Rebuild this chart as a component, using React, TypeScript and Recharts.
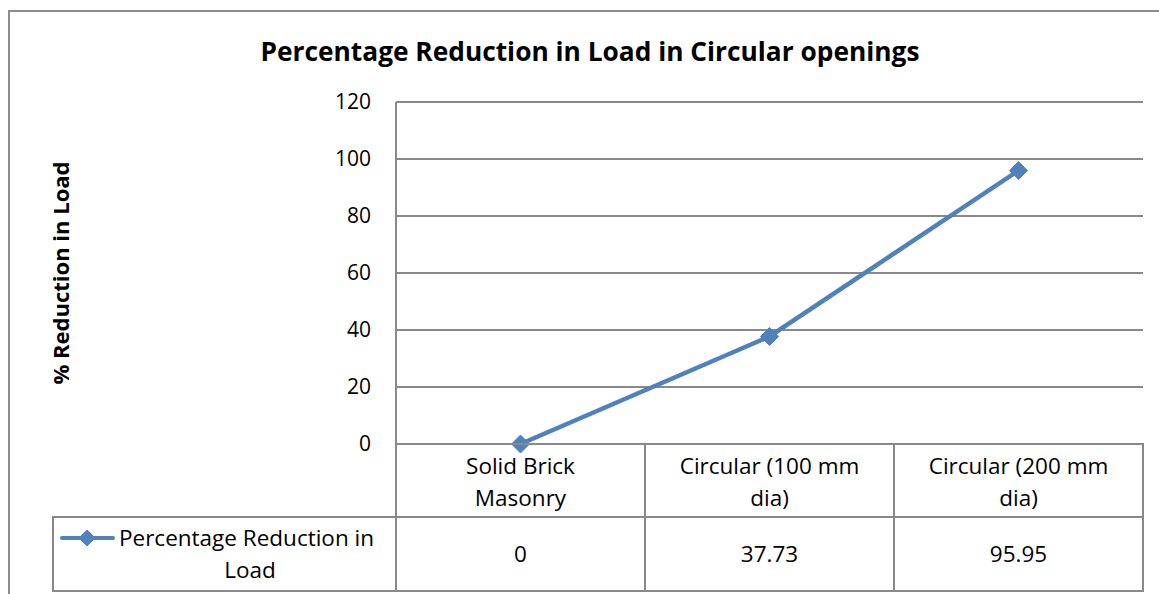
import React from "react";
import { LineChart, Line, XAxis, YAxis, CartesianGrid } from "recharts";

// ─── Data ──────────────────────────────────────────────────────────────────

const categories = ["Solid Brick Masonry", "Circular (100 mm dia)", "Circular (200 mm dia)"];
const headerLines = [
  ["Solid Brick", "Masonry"],
  ["Circular (100 mm", "dia)"],
  ["Circular (200 mm", "dia)"],
];
const reductionValues = [0, 37.73, 95.95];
const yTicks = [0, 20, 40, 60, 80, 100, 120];

const seriesName = "Percentage Reduction in Load";

const data = categories.map((c, i) => ({ name: c, value: reductionValues[i] }));

// ─── Style ─────────────────────────────────────────────────────────────────

const FONT = "'Open Sans', Lato, sans-serif";
const TABLE_FONT_SIZE = 22.5;
const TICK_FONT_SIZE = 21;
const LINE_COLOR = "#4F81BD";
const GRID_COLOR = "#898989";

const WIDTH = 1159;
const HEIGHT = 594;
const PLOT_LEFT = 396;
const PLOT_RIGHT = 1143;
const CELL_W = (PLOT_RIGHT - PLOT_LEFT) / categories.length;
const HEADER_H = 73;
const ROW_H = 74;
const LEGEND_LEFT = 53;

function Diamond({ cx, cy, r = 8 }: { cx: number; cy: number; r?: number }) {
  return (
    <polygon
      points={`${cx},${cy - r} ${cx + r},${cy} ${cx},${cy + r} ${cx - r},${cy}`}
      fill={LINE_COLOR}
      stroke={LINE_COLOR}
      strokeWidth={1}
    />
  );
}

// data table drawn as the x-axis ticks
function TableTick(props: any) {
  const { x, y, index } = props;
  const left = x - CELL_W / 2;
  const lines = headerLines[index];
  const txt = { fontFamily: FONT, fontSize: TABLE_FONT_SIZE, fill: "#000", textAnchor: "middle" as const };
  return (
    <g>
      <rect x={left} y={y} width={CELL_W} height={HEADER_H} fill="none" stroke={GRID_COLOR} strokeWidth={2} />
      <rect x={left} y={y + HEADER_H} width={CELL_W} height={ROW_H} fill="none" stroke={GRID_COLOR} strokeWidth={2} />
      <text {...txt} x={x} y={y + 30}>{lines[0]}</text>
      <text {...txt} x={x} y={y + 62}>{lines[1]}</text>
      <text {...txt} x={x} y={y + HEADER_H + 45}>{reductionValues[index]}</text>
      {index === 0 && (
        <g>
          <rect
            x={LEGEND_LEFT}
            y={y + HEADER_H}
            width={left - LEGEND_LEFT}
            height={ROW_H}
            fill="none"
            stroke={GRID_COLOR}
            strokeWidth={2}
          />
          <line x1={62} x2={113} y1={y + HEADER_H + 21} y2={y + HEADER_H + 21} stroke={LINE_COLOR} strokeWidth={4} strokeLinecap="round" />
          <Diamond cx={87} cy={y + HEADER_H + 21} r={8} />
          <text {...txt} textAnchor="start" x={119} y={y + HEADER_H + 29}>Percentage Reduction in</text>
          <text {...txt} x={250} y={y + HEADER_H + 61}>Load</text>
        </g>
      )}
    </g>
  );
}

function YTitle(props: any) {
  const { viewBox } = props;
  const cx = 60;
  const cy = viewBox.y + viewBox.height / 2;
  return (
    <text
      x={cx}
      y={cy}
      transform={`rotate(-90, ${cx}, ${cy})`}
      textAnchor="middle"
      dominantBaseline="central"
      fontFamily={FONT}
      fontSize={22}
      fontWeight="bold"
      fill="#000"
    >
      % Reduction in Load
    </text>
  );
}

export default function App() {
  return (
    <div
      style={{
        position: "fixed",
        left: 0,
        top: 0,
        width: WIDTH,
        height: HEIGHT,
        background: "#fff",
        overflow: "hidden",
      }}
    >
      {/* chart frame */}
      <div
        style={{
          position: "absolute",
          left: 8,
          top: 10,
          width: WIDTH - 8,
          height: HEIGHT - 10,
          borderLeft: "2px solid #8c8c8c",
          borderTop: "2px solid #8c8c8c",
          boxSizing: "border-box",
        }}
      />
      <div
        style={{
          position: "absolute",
          top: 33,
          left: 0,
          width: 1180,
          textAlign: "center",
          fontFamily: FONT,
          fontWeight: "bold",
          fontSize: 26.3,
          color: "#000",
        }}
      >
        Percentage Reduction in Load in Circular openings
      </div>
      <div style={{ position: "absolute", left: 0, top: 0 }}>
        <LineChart
          width={WIDTH}
          height={HEIGHT}
          data={data}
          margin={{ top: 102, right: WIDTH - PLOT_RIGHT, bottom: 0, left: PLOT_LEFT - 60 }}
        >
          <CartesianGrid vertical={false} stroke={GRID_COLOR} strokeWidth={2} />
          <XAxis
            dataKey="name"
            height={150}
            padding={{ left: CELL_W / 2, right: CELL_W / 2 }}
            axisLine={false}
            tickLine={false}
            tickSize={0}
            tickMargin={0}
            interval={0}
            tick={<TableTick />}
          />
          <YAxis
            width={60}
            domain={[0, 120]}
            ticks={yTicks}
            axisLine={{ stroke: GRID_COLOR, strokeWidth: 2 }}
            tickLine={false}
            tickSize={0}
            tickMargin={25}
            tick={{ fontFamily: FONT, fontSize: TICK_FONT_SIZE, fill: "#000" }}
            label={<YTitle />}
          />
          <Line
            dataKey="value"
            name={seriesName}
            stroke={LINE_COLOR}
            strokeWidth={4.5}
            dot={(p: any) => <Diamond key={p.index} cx={p.cx} cy={p.cy} r={9} />}
            activeDot={false}
            isAnimationActive={false}
          />
        </LineChart>
      </div>
    </div>
  );
}
